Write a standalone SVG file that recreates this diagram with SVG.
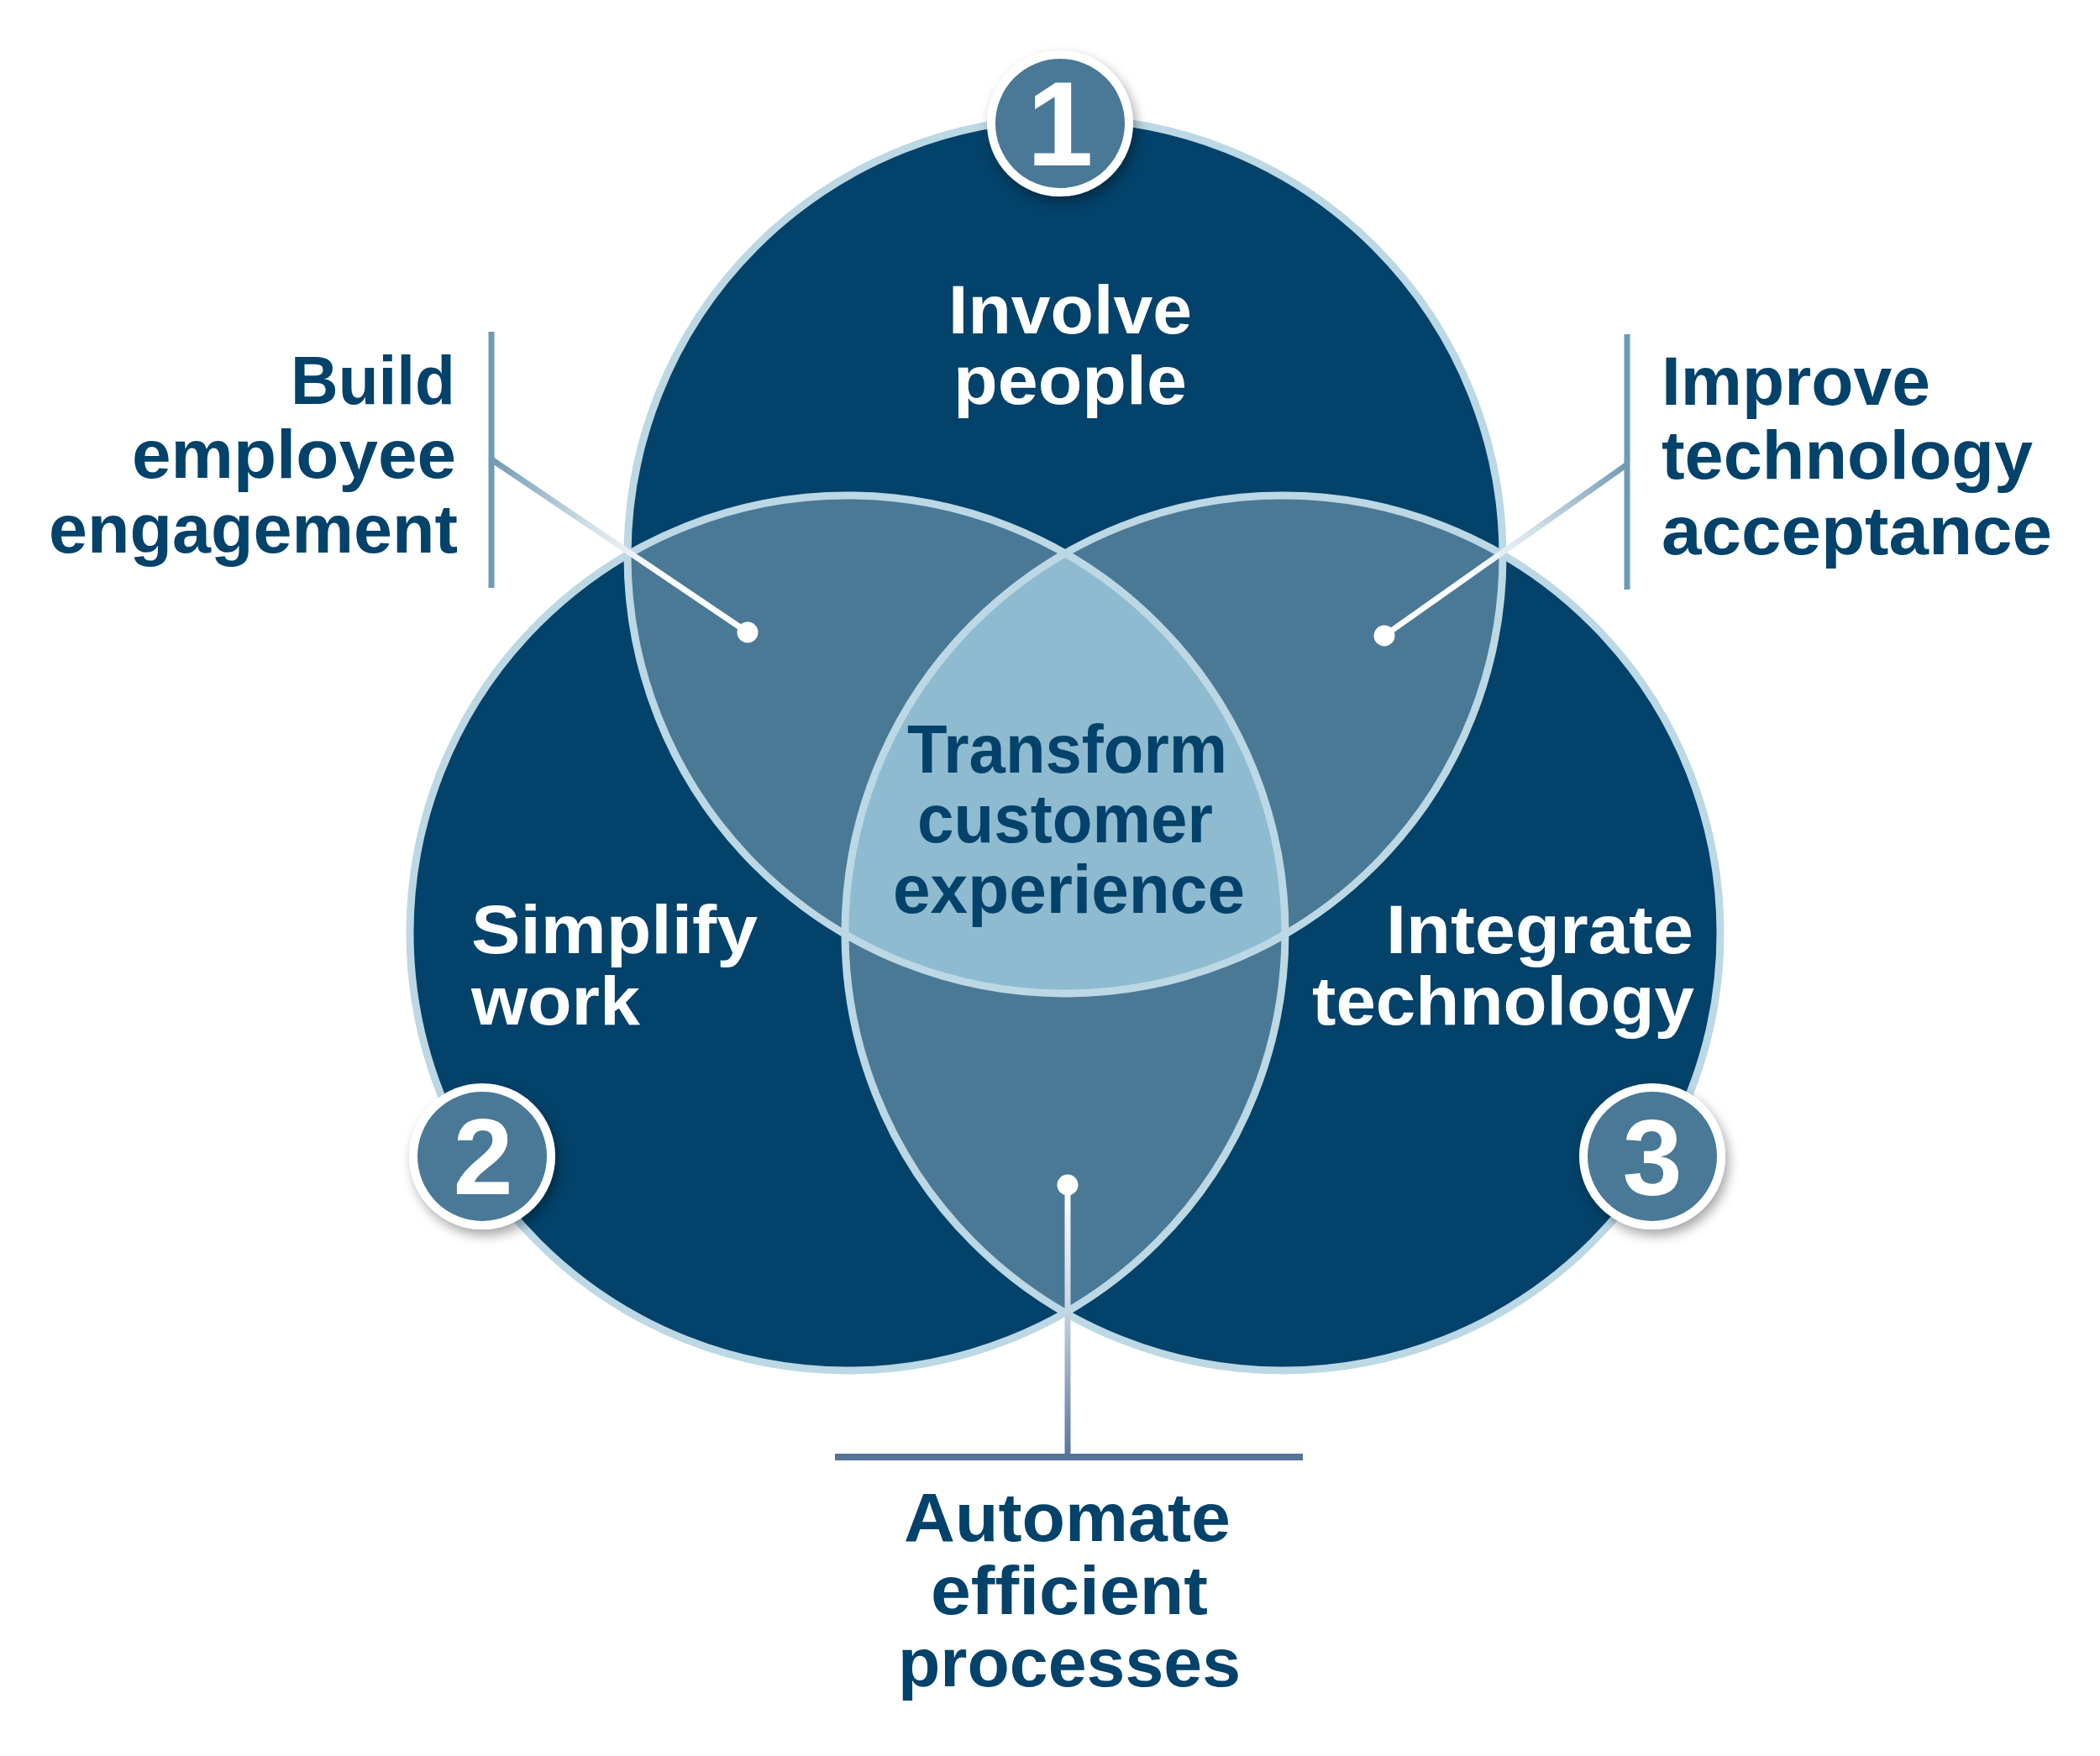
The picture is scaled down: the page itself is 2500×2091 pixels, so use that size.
<svg xmlns="http://www.w3.org/2000/svg" width="2500" height="2091" viewBox="0 0 2500 2091">
<style>
  .lbl { font-family: "Liberation Sans", Arial, sans-serif; font-weight: 700; font-size: 82px; }
  .dark { fill: #03426A; }
  .white { fill: #FFFFFF; }
  .num { font-family: "Liberation Sans", Arial, sans-serif; font-weight: 700; fill: #FFFFFF; text-anchor: middle; }
  .outline { fill: none; stroke: #BCD8E4; stroke-width: 9; }
  .badge { fill: #4A7996; stroke: #FFFFFF; stroke-width: 10; }
  .bar { stroke: #6F9AB3; stroke-width: 7; fill: none; }
  .dot { fill: #FFFFFF; }
</style>
<defs>
  <clipPath id="cT"><circle cx="1268" cy="662" r="521"/></clipPath>
  <clipPath id="cL"><circle cx="1009" cy="1111" r="521"/></clipPath>
  <clipPath id="cR"><circle cx="1527" cy="1111" r="521"/></clipPath>
  <filter id="shadow" x="-30%" y="-30%" width="160%" height="160%">
    <feDropShadow dx="4" dy="7" stdDeviation="7" flood-color="#000000" flood-opacity="0.35"/>
  </filter>
  <linearGradient id="gLeft" gradientUnits="userSpaceOnUse" x1="585" y1="547" x2="790" y2="686">
    <stop offset="0" stop-color="#6F9AB3"/>
    <stop offset="0.6" stop-color="#D6E2EA"/>
    <stop offset="1" stop-color="#FFFFFF"/>
  </linearGradient>
  <linearGradient id="gRight" gradientUnits="userSpaceOnUse" x1="1937" y1="553" x2="1745" y2="689">
    <stop offset="0" stop-color="#6F9AB3"/>
    <stop offset="0.6" stop-color="#D6E2EA"/>
    <stop offset="1" stop-color="#FFFFFF"/>
  </linearGradient>
  <linearGradient id="gBottom" gradientUnits="userSpaceOnUse" x1="1271" y1="1411" x2="1271" y2="1735">
    <stop offset="0" stop-color="#FFFFFF"/>
    <stop offset="0.45" stop-color="#C9D6E2"/>
    <stop offset="1" stop-color="#56739A"/>
  </linearGradient>
</defs>

<g id="venn">
  <g id="circle-involve-people">
    <circle cx="1268" cy="662" r="521" fill="#03426A"/>
  </g>
  <g id="circle-simplify-work">
    <circle cx="1009" cy="1111" r="521" fill="#03426A"/>
  </g>
  <g id="circle-integrate-technology">
    <circle cx="1527" cy="1111" r="521" fill="#03426A"/>
  </g>
  <g id="overlap-build-employee-engagement" clip-path="url(#cT)">
    <circle cx="1009" cy="1111" r="521" fill="#4A7996"/>
  </g>
  <g id="overlap-improve-technology-acceptance" clip-path="url(#cT)">
    <circle cx="1527" cy="1111" r="521" fill="#4A7996"/>
  </g>
  <g id="overlap-automate-efficient-processes" clip-path="url(#cL)">
    <circle cx="1527" cy="1111" r="521" fill="#4A7996"/>
  </g>
  <g id="center-transform-customer-experience" clip-path="url(#cT)">
    <g clip-path="url(#cL)">
      <circle cx="1527" cy="1111" r="521" fill="#8EBBD0"/>
    </g>
  </g>
  <g id="outlines">
    <circle class="outline" cx="1268" cy="662" r="521"/>
    <circle class="outline" cx="1009" cy="1111" r="521"/>
    <circle class="outline" cx="1527" cy="1111" r="521"/>
  </g>
</g>

<g id="connectors">
  <line class="bar" x1="585" y1="395" x2="585" y2="700"/>
  <line x1="585" y1="547" x2="890" y2="753" stroke="url(#gLeft)" stroke-width="7"/>
  <circle class="dot" cx="890" cy="753" r="12.5"/>
  <line class="bar" x1="1937" y1="398" x2="1937" y2="702"/>
  <line x1="1937" y1="553" x2="1648" y2="757" stroke="url(#gRight)" stroke-width="7"/>
  <circle class="dot" cx="1648" cy="757" r="12.5"/>
  <line x1="1271" y1="1411" x2="1271" y2="1735" stroke="url(#gBottom)" stroke-width="7"/>
  <line x1="994" y1="1735" x2="1551" y2="1735" stroke="#56739A" stroke-width="8"/>
  <circle class="dot" cx="1271" cy="1411" r="12.5"/>
</g>

<g id="label-involve-people">
  <text class="lbl white" x="1129" y="397" textLength="290" lengthAdjust="spacingAndGlyphs">Involve</text>
  <text class="lbl white" x="1135" y="481" textLength="278" lengthAdjust="spacingAndGlyphs">people</text>
</g>
<g id="label-simplify-work">
  <text class="lbl white" x="561" y="1135" textLength="341" lengthAdjust="spacingAndGlyphs">Simplify</text>
  <text class="lbl white" x="561" y="1220" textLength="201" lengthAdjust="spacingAndGlyphs">work</text>
</g>
<g id="label-integrate-technology">
  <text class="lbl white" x="1650" y="1135" textLength="366" lengthAdjust="spacingAndGlyphs">Integrate</text>
  <text class="lbl white" x="1562" y="1220" textLength="455" lengthAdjust="spacingAndGlyphs">technology</text>
</g>
<g id="label-transform-customer-experience">
  <text class="lbl dark" x="1080" y="920" textLength="381" lengthAdjust="spacingAndGlyphs">Transform</text>
  <text class="lbl dark" x="1092" y="1003" textLength="352" lengthAdjust="spacingAndGlyphs">customer</text>
  <text class="lbl dark" x="1063" y="1087" textLength="419" lengthAdjust="spacingAndGlyphs">experience</text>
</g>
<g id="label-build-employee-engagement">
  <text class="lbl dark" x="346" y="481" textLength="196" lengthAdjust="spacingAndGlyphs">Build</text>
  <text class="lbl dark" x="157" y="569" textLength="386" lengthAdjust="spacingAndGlyphs">employee</text>
  <text class="lbl dark" x="58" y="658" textLength="487" lengthAdjust="spacingAndGlyphs">engagement</text>
</g>
<g id="label-improve-technology-acceptance">
  <text class="lbl dark" x="1978" y="482" textLength="320" lengthAdjust="spacingAndGlyphs">Improve</text>
  <text class="lbl dark" x="1978" y="570" textLength="442" lengthAdjust="spacingAndGlyphs">technology</text>
  <text class="lbl dark" x="1978" y="660" textLength="465" lengthAdjust="spacingAndGlyphs">acceptance</text>
</g>
<g id="label-automate-efficient-processes">
  <text class="lbl dark" x="1076" y="1835" textLength="389" lengthAdjust="spacingAndGlyphs">Automate</text>
  <text class="lbl dark" x="1108" y="1922" textLength="330" lengthAdjust="spacingAndGlyphs">efficient</text>
  <text class="lbl dark" x="1069" y="2008" textLength="408" lengthAdjust="spacingAndGlyphs">processes</text>
</g>

<g id="badge-1" filter="url(#shadow)">
  <circle class="badge" cx="1262" cy="147" r="82"/>
  <text class="num" x="1262" y="197" font-size="142">1</text>
</g>
<g id="badge-2" filter="url(#shadow)">
  <circle class="badge" cx="574" cy="1377" r="82"/>
  <text class="num" x="575" y="1422" font-size="128">2</text>
</g>
<g id="badge-3" filter="url(#shadow)">
  <circle class="badge" cx="1967" cy="1377" r="82"/>
  <text class="num" x="1967" y="1423" font-size="128">3</text>
</g>
</svg>
